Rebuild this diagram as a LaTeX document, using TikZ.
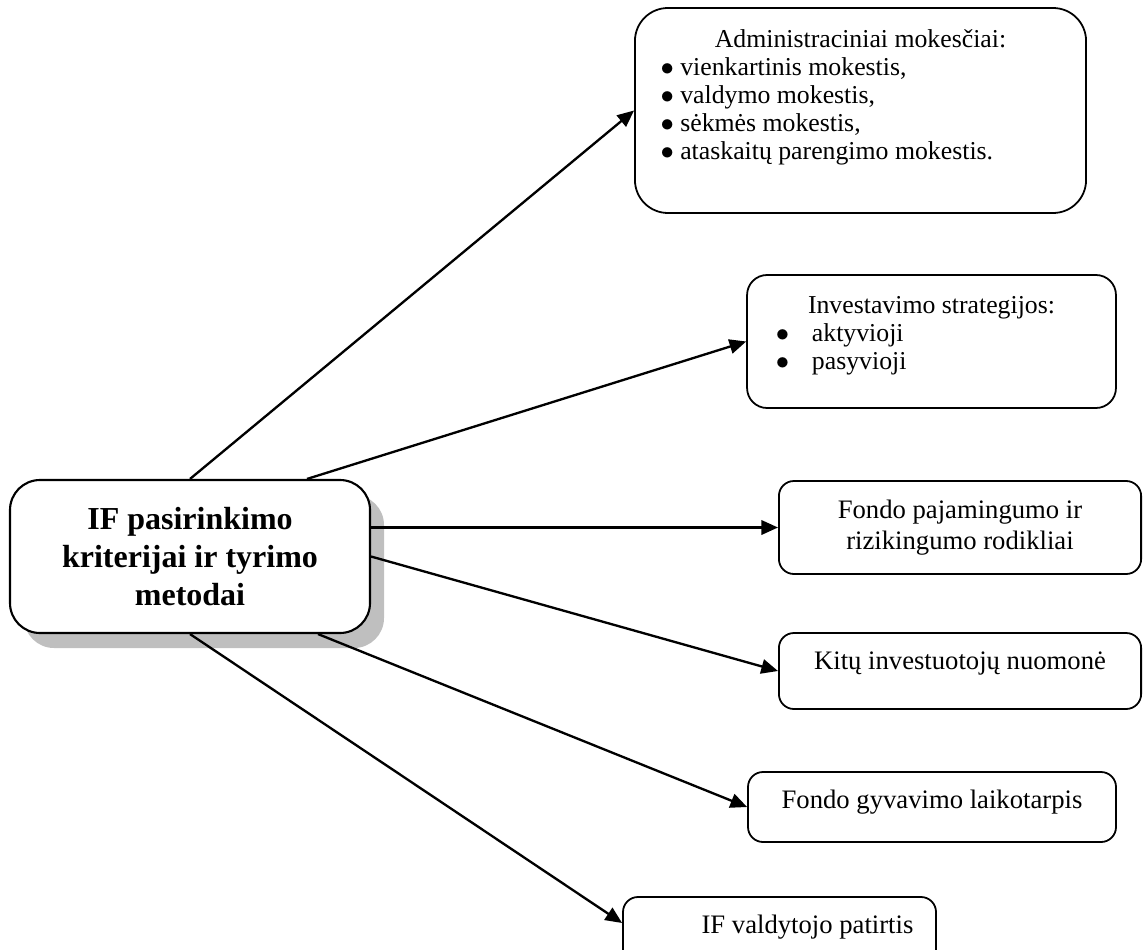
\documentclass[tikz,border=0pt]{standalone}
\usepackage{fontspec}
\setmainfont{Liberation Serif}
\usetikzlibrary{arrows.meta,shadows}

\newcommand{\topalign}[3]{\parbox[c][#1][t]{#2}{#3}}
\newcommand{\bul}{\ensuremath{\bullet}}

\tikzset{
  crit/.style={draw, line width=0.8pt, fill=white, rounded corners=9pt,
    inner sep=0pt, align=center, font=\fontsize{12}{14}\selectfont},
  list/.style={font=\fontsize{11.6}{12.6}\selectfont},
  conn/.style={-{Triangle[length=7.5pt,width=6.5pt]}, line width=1.05pt},
}

\begin{document}
\begin{tikzpicture}[x=0.45pt,y=-0.45pt]
   \useasboundingbox (0,0) rectangle (1143,949);

   \node (main) [draw, line width=0.95pt, fill=white, rounded corners=13.5pt,
     minimum width=162pt, minimum height=68.85pt, align=center,
     font=\fontsize{14.4}{16.9}\selectfont\bfseries,
     drop shadow={shadow xshift=6.3pt, shadow yshift=-6.75pt, fill=black!25, opacity=1}]
     at (190,556.5) {IF pasirinkimo\\kriterijai ir tyrimo\\metodai};

   \node (fees) [crit, list, rounded corners=14.85pt, minimum width=203pt,
     minimum height=92.25pt] at (860.5,110.5)
     {\topalign{73pt}{180pt}{\centering Administraciniai mokesčiai:\par
       \raggedright \bul\ vienkartinis mokestis,\par
       \bul\ valdymo mokestis,\par
       \bul\ sėkmės mokestis,\par
       \bul\ ataskaitų parengimo mokestis.}};
   \node (strat) [crit, list, minimum width=166pt, minimum height=59.85pt]
     at (931.5,341.5)
     {\topalign{41pt}{140pt}{\centering Investavimo strategijos:\par
       \raggedright \makebox[16.2pt][l]{\bul}aktyvioji\par
       \makebox[16.2pt][l]{\bul}pasyvioji}};
   \node (perf) [crit, rounded corners=6.75pt, minimum width=163pt, minimum height=41.85pt]
     at (960,527.5) {Fondo pajamingumo ir\\rizikingumo rodikliai};
   \node (opin) [crit, rounded corners=6.75pt, minimum width=163pt, minimum height=34.2pt]
     at (960,671) {\topalign{17.2pt}{160pt}{\centering Kitų investuotojų nuomonė}};
   \node (life) [crit, rounded corners=6.75pt, minimum width=165.6pt, minimum height=31.5pt]
     at (932,807) {\topalign{15.5pt}{160pt}{\centering Fondo gyvavimo laikotarpis}};
   \node (mgr) [crit, rounded corners=6.75pt, minimum width=140.85pt, minimum height=31.5pt]
     at (779.5,932) {\topalign{15.5pt}{135pt}{\centering\hspace*{25.2pt}IF valdytojo patirtis}};

   \path[conn]
     (main.north) edge (fees.west)
     ([xshift=52.65pt]main.north) edge (strat.west)
     (perf.west -| main.east) edge (perf.west)
     (main.east) edge (opin.west)
     ([xshift=57.6pt]main.south) edge (life.west)
     (main.south) edge ([yshift=4.05pt]mgr.west);
\end{tikzpicture}
\end{document}
